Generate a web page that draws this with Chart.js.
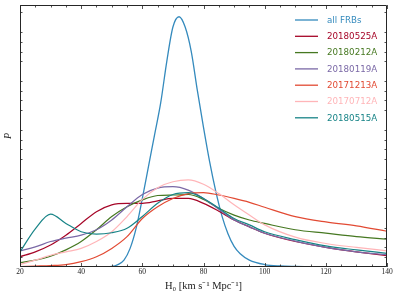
<!DOCTYPE html>
<html>
<head>
<meta charset="utf-8">
<script src="https://cdn.jsdelivr.net/npm/chart.js@4/dist/chart.umd.min.js"></script>
<style>
html,body{margin:0;padding:0;background:#fff;}
#wrap{width:398px;height:297px;position:relative;}
</style>
</head>
<body>
<div id="wrap"><canvas id="c" width="398" height="297"></canvas></div>
<script>
// H0 grid for the individual FRB posteriors
const H0 = [20,25,30,35,40,45,50,55,60,65,70,75,80,85,90,95,100,110,120,130,140];
// H0 grid for the combined posterior
const H0_all = [20,30,40,46,48,50,52,54,56,58,60,62,64,66,68,70,72,74,76,78,80,82,84,86,88,90,92,95,100,105,110,120,140];

const P_all      = [0,0,0,0,0.003,0.01,0.05,0.14,0.38,0.8,1.4,2.05,2.7,3.35,4.2,4.9,5.11,4.9,4.4,3.6,2.85,2.15,1.55,1.05,0.68,0.42,0.27,0.14,0.05,0.02,0.01,0,0];
const P_20180525A = [0.21,0.31,0.45,0.65,0.89,1.13,1.27,1.30,1.30,1.35,1.40,1.40,1.30,1.14,0.96,0.82,0.69,0.52,0.40,0.31,0.23];
const P_20180212A = [0.09,0.14,0.22,0.35,0.52,0.76,1.03,1.23,1.37,1.46,1.47,1.48,1.38,1.20,1.06,0.96,0.89,0.76,0.69,0.62,0.57];
const P_20180119A = [0.33,0.41,0.52,0.59,0.65,0.76,0.96,1.23,1.48,1.61,1.64,1.57,1.40,1.18,0.96,0.82,0.69,0.53,0.40,0.31,0.25];
const P_20171213A = [0.01,0.02,0.03,0.05,0.11,0.21,0.38,0.62,0.99,1.23,1.40,1.50,1.52,1.47,1.40,1.32,1.22,1.03,0.92,0.84,0.73];
const P_20170712A = [0.05,0.14,0.24,0.31,0.38,0.52,0.72,1.03,1.38,1.62,1.74,1.78,1.69,1.50,1.27,1.06,0.86,0.61,0.48,0.40,0.33];
const P_20180515A = [0.31,0.78,1.08,0.89,0.72,0.67,0.70,0.79,1.03,1.30,1.48,1.52,1.40,1.20,0.99,0.86,0.72,0.56,0.43,0.35,0.28];

const seriesLabels = ['all FRBs','20180525A','20180212A','20180119A','20171213A','20170712A','20180515A'];
const seriesColors = ['#348ABD','#A60628','#467821','#7A68A6','#E24A33','#FFB5B8','#188487'];
const seriesX = [H0_all,H0,H0,H0,H0,H0,H0];
const seriesY = [P_all,P_20180525A,P_20180212A,P_20180119A,P_20171213A,P_20170712A,P_20180515A];

const datasets = seriesLabels.map((lab,i)=>({
  label: lab,
  data: seriesX[i].map((x,j)=>({x:x,y:seriesY[i][j]})),
  borderColor: seriesColors[i],
  backgroundColor: seriesColors[i],
  borderWidth: i===0?1.3:1.2,
  pointRadius: 0,
  cubicInterpolationMode: 'monotone',
  fill: false,
  order: seriesLabels.length - i
}));

const frameAndTicks = {
  id: 'frameAndTicks',
  afterDatasetsDraw(chart){
    const ctx = chart.ctx, a = chart.chartArea;
    const xs = chart.scales.x, ys = chart.scales.y;
    ctx.save();
    ctx.strokeStyle = '#262626';
    ctx.lineWidth = 1;
    ctx.beginPath();
    ctx.rect(a.left+0.5, a.top+0.5, a.right-a.left-1, a.bottom-a.top-1);
    ctx.stroke();
    ctx.lineWidth = 0.8;
    ctx.beginPath();
    for(let v=20; v<=140; v+=5){
      const px = Math.round(xs.getPixelForValue(v))+0.5;
      const len = (v%20===0)?4:2.5;
      ctx.moveTo(px,a.bottom); ctx.lineTo(px,a.bottom-len);
      ctx.moveTo(px,a.top); ctx.lineTo(px,a.top+len);
    }
    for(let k=1; k<=26; k++){
      if(k%5===0) continue;
      const v = k*0.2;
      if(v>ys.max) break;
      const py = Math.round(ys.getPixelForValue(v))+0.5;
      ctx.moveTo(a.left,py); ctx.lineTo(a.left+2.5,py);
      ctx.moveTo(a.right,py); ctx.lineTo(a.right-2.5,py);
    }
    ctx.stroke();
    // legend
    ctx.font = '8.7px "DejaVu Sans"';
    ctx.textBaseline = 'middle';
    chart.data.datasets.forEach((ds,i)=>{
      const y = 20 + i*16.3;
      ctx.strokeStyle = ds.borderColor;
      ctx.lineWidth = 1.3;
      ctx.beginPath(); ctx.moveTo(295,y); ctx.lineTo(318,y); ctx.stroke();
      ctx.fillStyle = ds.borderColor;
      ctx.fillText(ds.label, 327, y+0.5);
    });
    ctx.restore();
  }
};

new Chart(document.getElementById('c'), {
  type: 'line',
  data: { datasets: datasets },
  options: {
    responsive: false,
    animation: false,
    layout: { padding: { top: 5, right: 11, left: 0, bottom: 0 } },
    plugins: { legend: { display: false }, tooltip: { enabled: false } },
    scales: {
      x: {
        type: 'linear', min: 20, max: 140,
        grid: { display: false, drawTicks: false },
        border: { display: false },
        ticks: { stepSize: 20, padding: 1, color: '#222', font: { family: '"Liberation Serif", serif', size: 7.5 } },
        title: { display: true, text: 'H\u2080 [km s\u207B\u00B9 Mpc\u207B\u00B9]', color: '#222', padding: { top: 0, bottom: 4 }, font: { family: '"Liberation Serif", serif', size: 10.5 } },
        afterFit(s){ s.height = 30; }
      },
      y: {
        type: 'linear', min: 0, max: 5.35,
        grid: { display: false, drawTicks: false },
        border: { display: false },
        ticks: { display: false },
        title: { display: true, text: 'P', color: '#222', padding: { top: 2, bottom: 0 }, font: { family: '"Liberation Serif", serif', size: 10, style: 'italic' } },
        afterFit(s){ s.width = 20; }
      }
    }
  },
  plugins: [frameAndTicks]
});
</script>
</body>
</html>
